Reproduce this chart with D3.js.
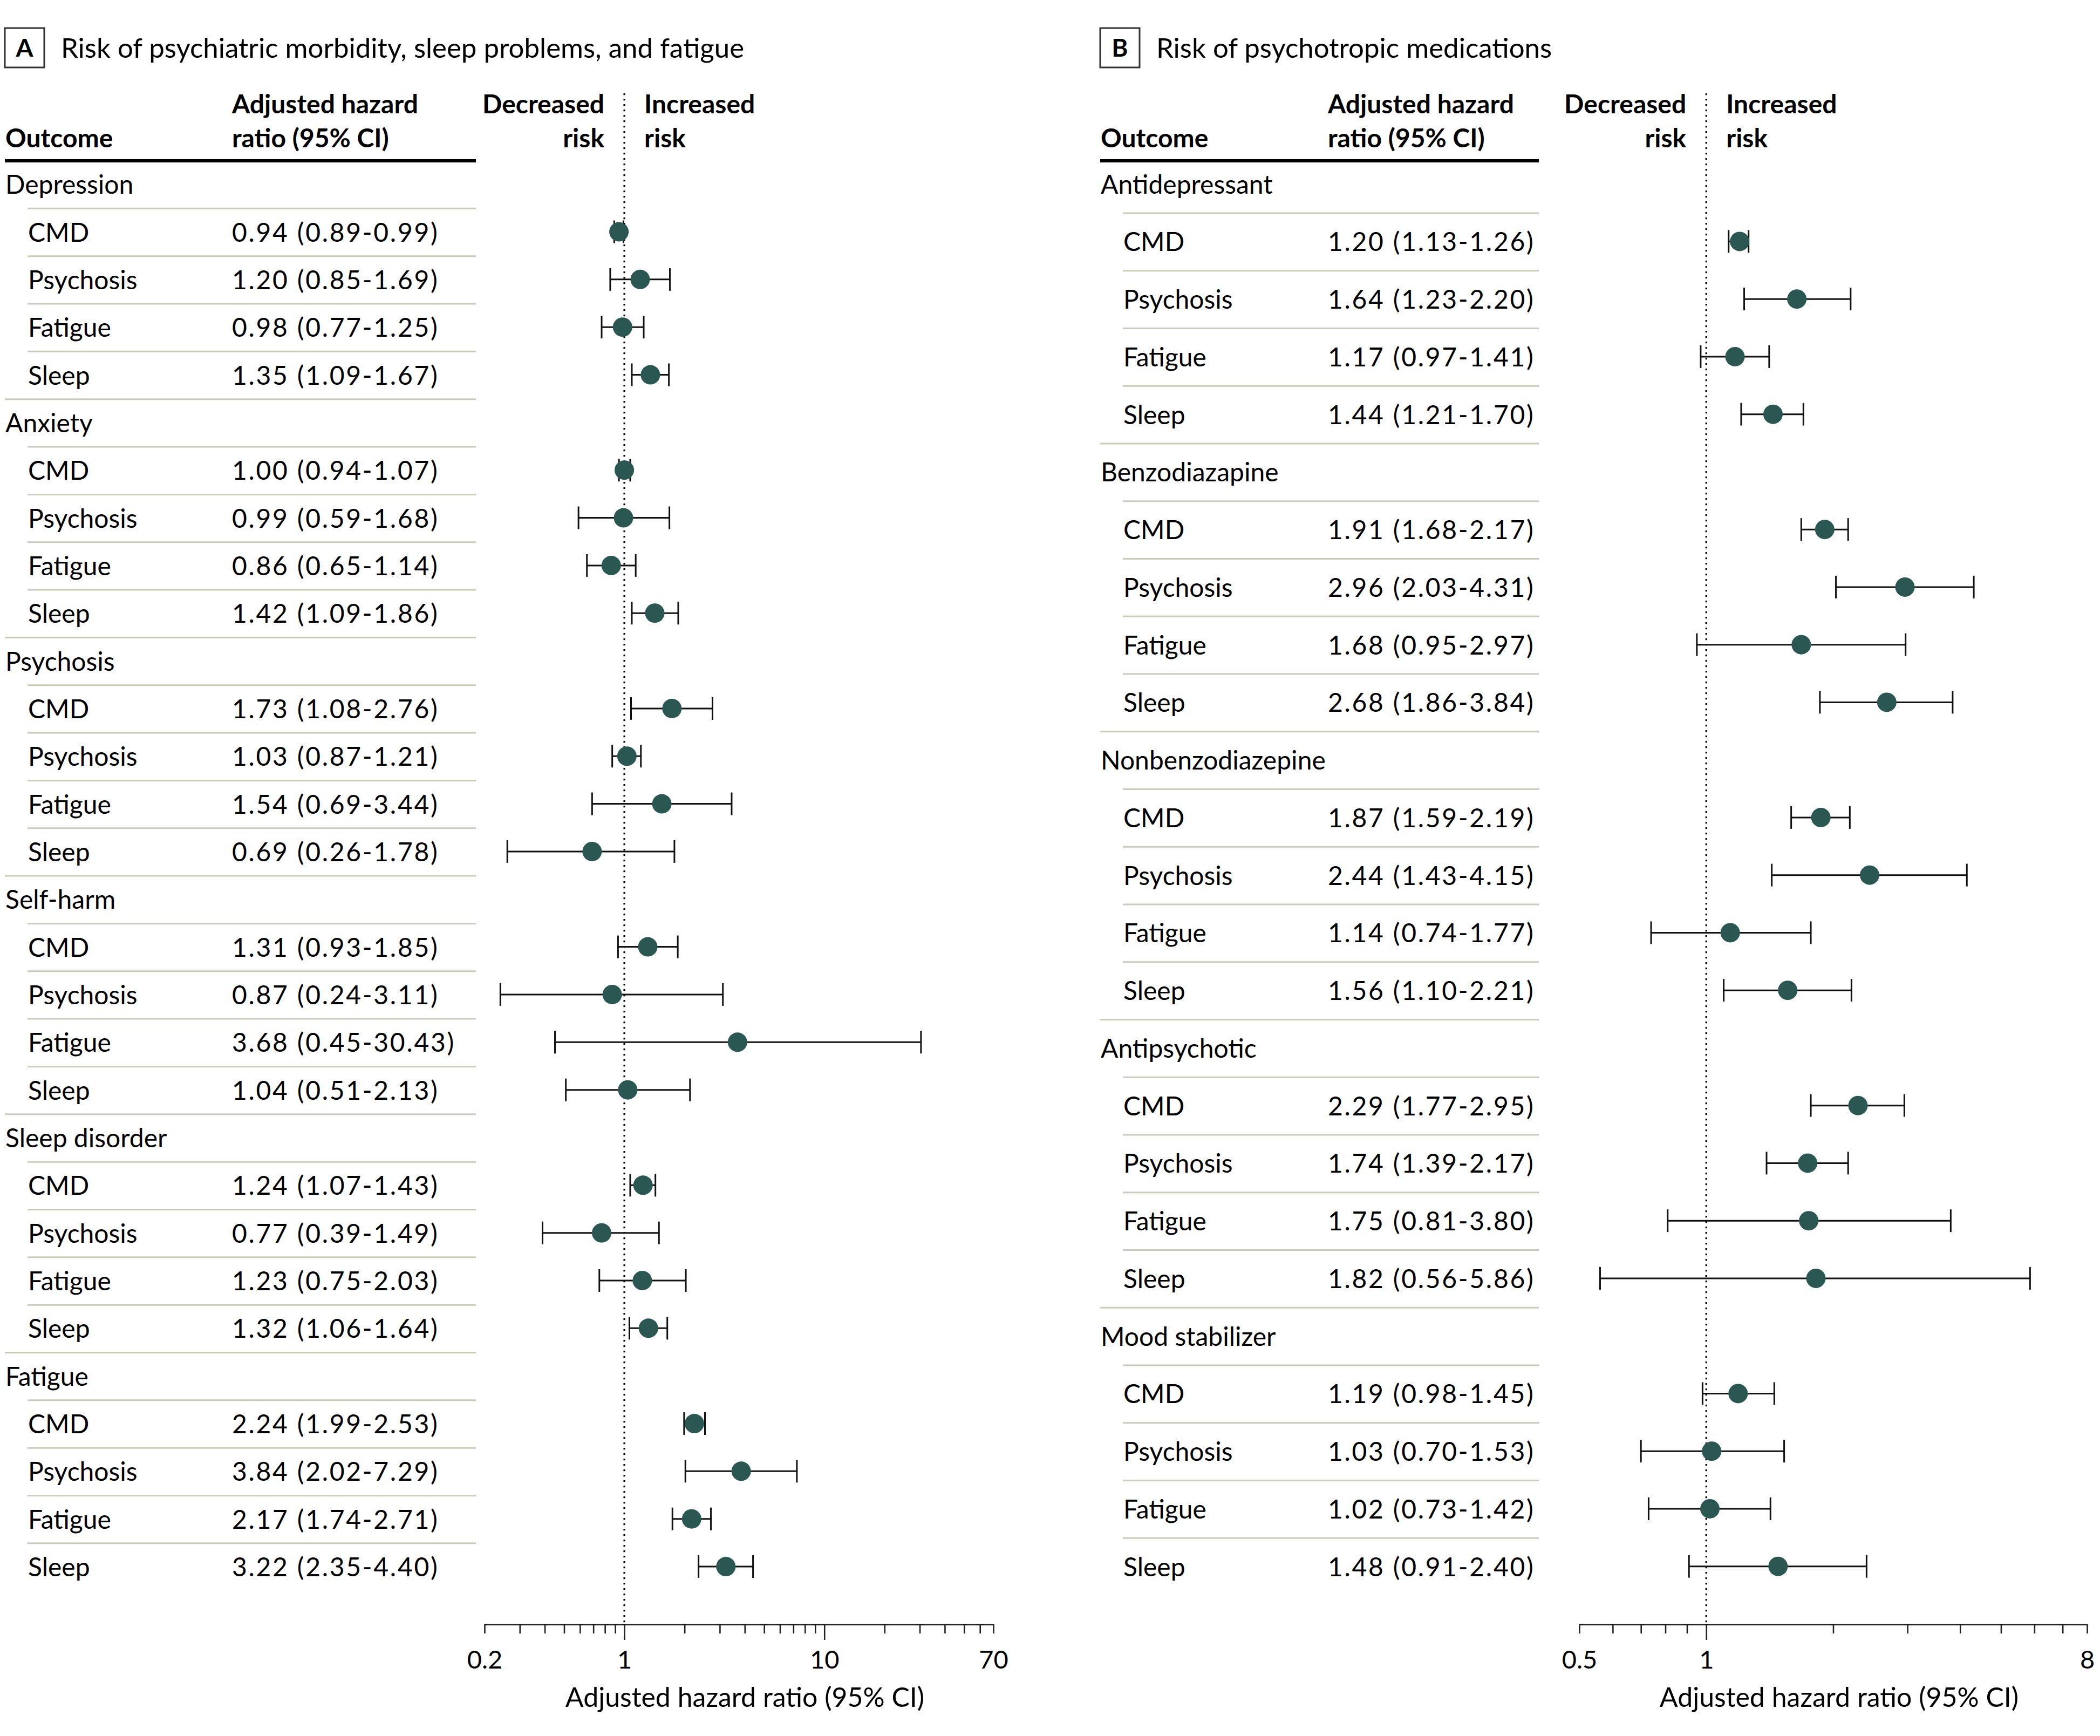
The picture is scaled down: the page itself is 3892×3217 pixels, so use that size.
<!DOCTYPE html>
<html><head><meta charset="utf-8">
<script src="https://cdn.jsdelivr.net/npm/d3@7"></script>
<style>html,body{margin:0;padding:0;background:#fff;} svg{display:block;font-family:Lato,"Open Sans",sans-serif;}</style>
</head><body><svg id="chart" width="3892" height="3217"></svg>
<script>
// ---------- DATA ----------
const outcomes = ["CMD", "Psychosis", "Fatigue", "Sleep"];

const groupsA = ["Depression", "Anxiety", "Psychosis", "Self-harm", "Sleep disorder", "Fatigue"];
const hrA   = [0.94, 1.20, 0.98, 1.35,  1.00, 0.99, 0.86, 1.42,  1.73, 1.03, 1.54, 0.69,  1.31, 0.87, 3.68, 1.04,  1.24, 0.77, 1.23, 1.32,  2.24, 3.84, 2.17, 3.22];
const lowA  = [0.89, 0.85, 0.77, 1.09,  0.94, 0.59, 0.65, 1.09,  1.08, 0.87, 0.69, 0.26,  0.93, 0.24, 0.45, 0.51,  1.07, 0.39, 0.75, 1.06,  1.99, 2.02, 1.74, 2.35];
const highA = [0.99, 1.69, 1.25, 1.67,  1.07, 1.68, 1.14, 1.86,  2.76, 1.21, 3.44, 1.78,  1.85, 3.11, 30.43, 2.13, 1.43, 1.49, 2.03, 1.64,  2.53, 7.29, 2.71, 4.40];

const groupsB = ["Antidepressant", "Benzodiazapine", "Nonbenzodiazepine", "Antipsychotic", "Mood stabilizer"];
const hrB   = [1.20, 1.64, 1.17, 1.44,  1.91, 2.96, 1.68, 2.68,  1.87, 2.44, 1.14, 1.56,  2.29, 1.74, 1.75, 1.82,  1.19, 1.03, 1.02, 1.48];
const lowB  = [1.13, 1.23, 0.97, 1.21,  1.68, 2.03, 0.95, 1.86,  1.59, 1.43, 0.74, 1.10,  1.77, 1.39, 0.81, 0.56,  0.98, 0.70, 0.73, 0.91];
const highB = [1.26, 2.20, 1.41, 1.70,  2.17, 4.31, 2.97, 3.84,  2.19, 4.15, 1.77, 2.21,  2.95, 2.17, 3.80, 5.86,  1.45, 1.53, 1.42, 2.40];

const domainA = [0.2, 70];
const tickLabelsA = [0.2, 1, 10, 70];
const majorTicksA = [1, 10];
const domainB = [0.5, 8];
const tickLabelsB = [0.5, 1, 8];
const majorTicksB = [1];

const titleA = "Risk of psychiatric morbidity, sleep problems, and fatigue";
const titleB = "Risk of psychotropic medications";
const axisTitle = "Adjusted hazard ratio (95% CI)";

// ---------- DRAW ----------
const svg = d3.select("#chart");
svg.append("rect").attr("width", 3892).attr("height", 3217).attr("fill", "#fff");
const fmt = d3.format(".2f");
const FS = 48;
const MARK = "#2b5753";
const SEP = "#c9ccbb";

function panel(cfg) {
  const g = svg.append("g");
  // label box + title
  g.append("rect").attr("x", cfg.boxX).attr("y", 52).attr("width", 73).attr("height", 73)
    .attr("fill", "none").attr("stroke", "#333").attr("stroke-width", 3);
  g.append("text").attr("x", cfg.boxX + 36.5).attr("y", 105).attr("text-anchor", "middle")
    .attr("font-size", 46).attr("font-weight", 700).text(cfg.letter);
  g.append("text").attr("x", cfg.boxX + 104).attr("y", 107).attr("font-size", 51).text(cfg.title);

  // headers
  const hdr = g.append("g").attr("font-weight", 700).attr("font-size", FS);
  hdr.append("text").attr("x", cfg.groupX).attr("y", 273).text("Outcome");
  hdr.append("text").attr("x", cfg.hrX).attr("y", 210).text("Adjusted hazard");
  hdr.append("text").attr("x", cfg.hrX).attr("y", 273).text("ratio (95% CI)");

  // rows
  const rows = [];
  cfg.groups.forEach((grp, gi) => {
    rows.push({type: "group", label: grp});
    outcomes.forEach((o, oi) => {
      const k = gi * outcomes.length + oi;
      rows.push({type: "item", label: o, hr: cfg.hr[k], lo: cfg.lo[k], hi: cfg.hi[k], last: oi === outcomes.length - 1});
    });
  });
  const y = d3.scaleBand().domain(d3.range(rows.length))
    .range([cfg.rowTop, cfg.rowTop + rows.length * cfg.rowH]).paddingInner(0).paddingOuter(0);
  const x = d3.scaleLog().domain(cfg.domain).range(cfg.range);

  // header thick rule
  g.append("line").attr("x1", cfg.groupX - 1).attr("x2", cfg.tableRight).attr("y1", 298).attr("y2", 298)
    .attr("stroke", "#000").attr("stroke-width", 6);

  // separators
  rows.forEach((r, i) => {
    if (i === rows.length - 1) return;
    const yy = y(i) + y.bandwidth();
    g.append("line").attr("x1", r.last ? cfg.groupX - 1 : cfg.itemX - 1).attr("x2", cfg.tableRight)
      .attr("y1", yy).attr("y2", yy).attr("stroke", SEP).attr("stroke-width", 3);
  });

  // row texts
  const rt = g.append("g").attr("font-size", FS).attr("fill", "#000");
  rows.forEach((r, i) => {
    const cy = y(i) + y.bandwidth() / 2;
    rt.append("text").attr("x", r.type === "group" ? cfg.groupX : cfg.itemX).attr("y", cy + 17).text(r.label);
    if (r.type === "item") {
      rt.append("text").attr("x", cfg.hrX).attr("y", cy + 17).attr("letter-spacing", 2.7)
        .text(`${fmt(r.hr)} (${fmt(r.lo)}-${fmt(r.hi)})`);
    }
  });

  // reference dotted line
  g.append("line").attr("x1", x(1)).attr("x2", x(1)).attr("y1", 173).attr("y2", cfg.axisY)
    .attr("stroke", "#000").attr("stroke-width", 3.2).attr("stroke-dasharray", "3.2 6.8");

  // risk headers
  const rh = g.append("g").attr("font-weight", 700).attr("font-size", FS);
  rh.append("text").attr("x", x(1) - 37).attr("y", 210).attr("text-anchor", "end").text("Decreased");
  rh.append("text").attr("x", x(1) - 37).attr("y", 273).attr("text-anchor", "end").text("risk");
  rh.append("text").attr("x", x(1) + 37).attr("y", 210).text("Increased");
  rh.append("text").attr("x", x(1) + 37).attr("y", 273).text("risk");

  // CIs and markers
  const marks = g.append("g");
  rows.forEach((r, i) => {
    if (r.type !== "item") return;
    const cy = y(i) + y.bandwidth() / 2 - 1;
    marks.append("line").attr("x1", x(r.lo)).attr("x2", x(r.hi)).attr("y1", cy).attr("y2", cy)
      .attr("stroke", "#111").attr("stroke-width", 3);
    [r.lo, r.hi].forEach(v => {
      marks.append("line").attr("x1", x(v)).attr("x2", x(v)).attr("y1", cy - 21).attr("y2", cy + 21)
        .attr("stroke", "#111").attr("stroke-width", 3);
    });
    marks.append("circle").attr("cx", x(r.hr)).attr("cy", cy).attr("r", 18).attr("fill", MARK);
  });

  // axis
  const near = (a, b) => Math.abs(a - b) < 1e-9;
  const axis = d3.axisBottom(x).tickValues(x.ticks()).tickSizeInner(17).tickSizeOuter(0)
    .tickFormat(d => cfg.labels.some(l => near(l, d)) ? String(d) : "");
  const ax = g.append("g").attr("transform", `translate(0,${cfg.axisY})`).call(axis);
  ax.select(".domain").attr("stroke", "#222").attr("stroke-width", 3);
  ax.selectAll(".tick line").attr("stroke", "#222").attr("stroke-width", 2.6)
    .attr("y2", d => cfg.major.some(m => near(m, d)) ? 29 : 17);
  ax.selectAll(".tick text").attr("y", 82).attr("dy", null).attr("font-size", 47)
    .attr("font-family", "Lato").attr("fill", "#000");
  g.append("text").attr("x", (cfg.range[0] + cfg.range[1]) / 2 + 11).attr("y", 3163)
    .attr("text-anchor", "middle").attr("font-size", 50).text(axisTitle);
}

panel({letter: "A", title: titleA, boxX: 9, groupX: 10, itemX: 52, hrX: 430, tableRight: 882,
  groups: groupsA, hr: hrA, lo: lowA, hi: highA, rowTop: 298, rowH: 88.34,
  domain: domainA, range: [898, 1841], labels: tickLabelsA, major: majorTicksA, axisY: 3010});
panel({letter: "B", title: titleB, boxX: 2039, groupX: 2040, itemX: 2082, hrX: 2461, tableRight: 2852,
  groups: groupsB, hr: hrB, lo: lowB, hi: highB, rowTop: 288.25, rowH: 106.75,
  domain: domainB, range: [2927, 3868], labels: tickLabelsB, major: majorTicksB, axisY: 3010});
</script></body></html>
